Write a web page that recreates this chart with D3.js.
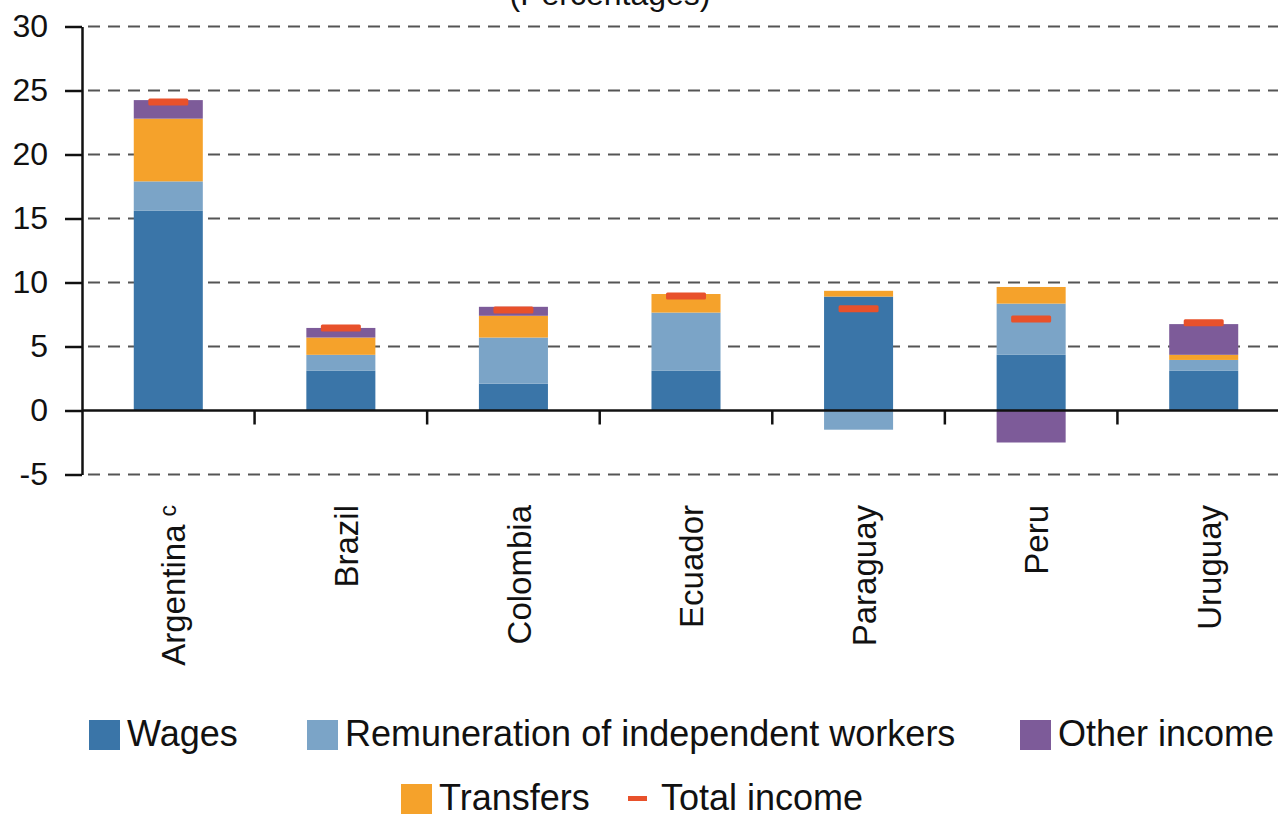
<!DOCTYPE html>
<html>
<head>
<meta charset="utf-8">
<script src="https://cdn.jsdelivr.net/npm/d3@7"></script>
<style>
  body { margin: 0; background: #fff; }
  svg { display: block; font-family: "Liberation Sans", Arial, sans-serif; }
</style>
</head>
<body>
<div id="chart"></div>
<script>
// data
var countries = ["Argentina", "Brazil", "Colombia", "Ecuador", "Paraguay", "Peru", "Uruguay"];
var wages = [15.6, 3.1, 2.1, 3.1, 8.9, 4.35, 3.1];
var independent = [2.3, 1.25, 3.6, 4.55, -1.5, 4.0, 0.85];
var transfers = [4.9, 1.35, 1.7, 1.45, 0.45, 1.3, 0.4];
var other = [1.45, 0.75, 0.7, 0, 0, -2.5, 2.4];
var totalIncome = [24.1, 6.45, 7.85, 8.95, 7.95, 7.15, 6.85];
var yTicks = [-5, 0, 5, 10, 15, 20, 25, 30];
var seriesNames = ["Wages", "Remuneration of independent workers", "Other income", "Transfers", "Total income"];
var title = "(Percentages)";

var width = 1278, height = 816;
var colors = {
  wages: "#3a75a8",
  independent: "#7ba4c7",
  other: "#7d5b99",
  transfers: "#f5a22b",
  total: "#e8512b"
};

var svg = d3.select("#chart").append("svg")
    .attr("width", width)
    .attr("height", height);

var x = d3.scaleBand()
    .domain(countries)
    .range([82, 1290])
    .paddingInner(0.6)
    .paddingOuter(0.3);

var y = d3.scaleLinear()
    .domain([-5, 30])
    .range([474.5, 26.5]);

// stacked table, stacking order bottom-up: wages, independent, transfers, other
var table = countries.map(function(c, i) {
  return {country: c, wages: wages[i], independent: independent[i], transfers: transfers[i], other: other[i], total: totalIncome[i]};
});
var stack = d3.stack()
    .keys(["wages", "independent", "transfers", "other"])
    .offset(d3.stackOffsetDiverging);
var layers = stack(table);

// title, cut at the top edge
svg.append("text")
    .attr("x", 610)
    .attr("y", 5)
    .attr("text-anchor", "middle")
    .style("font-size", "32px")
    .attr("fill", "#111")
    .text(title);

// dashed gridlines
svg.append("g")
  .selectAll("line")
    .data(yTicks.filter(function(d) { return d !== 0; }))
  .enter().append("line")
    .attr("x1", 88)
    .attr("x2", width)
    .attr("y1", function(d) { return y(d); })
    .attr("y2", function(d) { return y(d); })
    .attr("stroke", "#555")
    .attr("stroke-width", 2)
    .attr("stroke-dasharray", "12,8");

// bars
svg.append("g")
  .selectAll("g")
    .data(layers)
  .enter().append("g")
    .attr("fill", function(d) { return colors[d.key]; })
  .selectAll("rect")
    .data(function(d) { return d; })
  .enter().append("rect")
    .attr("x", function(d) { return x(d.data.country); })
    .attr("width", x.bandwidth())
    .attr("y", function(d) { return y(Math.max(d[0], d[1])); })
    .attr("height", function(d) { return Math.abs(y(d[0]) - y(d[1])); });

// total income markers
svg.append("g")
  .selectAll("rect")
    .data(table)
  .enter().append("rect")
    .attr("x", function(d) { return x(d.country) + x.bandwidth() / 2 - 20; })
    .attr("y", function(d) { return y(d.total) - 3.5; })
    .attr("width", 40)
    .attr("height", 7)
    .attr("rx", 1.5)
    .attr("fill", colors.total);

// y axis
var yAxis = svg.append("g")
    .attr("transform", "translate(82,0)")
    .call(d3.axisLeft(y)
      .tickValues(yTicks)
      .tickFormat(function(d) { return String(d); })
      .tickSize(17).tickSizeOuter(0).tickPadding(17));
yAxis.select(".domain").attr("stroke", "#111").attr("stroke-width", 2.5);
yAxis.selectAll(".tick line").attr("stroke", "#111").attr("stroke-width", 2.5);
yAxis.selectAll(".tick text")
    .attr("fill", "#111")
    .style("font-size", "32px")
    .style("font-family", "'Liberation Sans', Arial, sans-serif");

// zero line and category separators
svg.append("line")
    .attr("x1", 82)
    .attr("x2", width)
    .attr("y1", y(0))
    .attr("y2", y(0))
    .attr("stroke", "#111")
    .attr("stroke-width", 2.5);

svg.append("g")
  .selectAll("line")
    .data(countries.slice(1))
  .enter().append("line")
    .attr("x1", function(d) { return x(d) + x.bandwidth() / 2 - x.step() / 2; })
    .attr("x2", function(d) { return x(d) + x.bandwidth() / 2 - x.step() / 2; })
    .attr("y1", y(0))
    .attr("y2", y(0) + 14)
    .attr("stroke", "#111")
    .attr("stroke-width", 2.5);

// category labels, rotated
var labels = svg.append("g")
  .selectAll("text")
    .data(countries)
  .enter().append("text")
    .attr("transform", function(d) { return "translate(" + (x(d) + x.bandwidth() / 2) + ",505) rotate(-90)"; })
    .attr("text-anchor", "end")
    .attr("dy", "0.52em")
    .attr("fill", "#111")
    .style("font-size", "33px");

labels.append("tspan").text(function(d) { return d; });
labels.filter(function(d) { return d === "Argentina"; })
  .append("tspan")
    .attr("dx", 8)
    .attr("dy", "-0.4em")
    .style("font-size", "23px")
    .text("c");

// legend
var legendItems = [
  {name: seriesNames[0], color: colors.wages, x: 89, row: 0},
  {name: seriesNames[1], color: colors.independent, x: 307, row: 0},
  {name: seriesNames[2], color: colors.other, x: 1020, row: 0},
  {name: seriesNames[3], color: colors.transfers, x: 401, row: 1},
  {name: seriesNames[4], color: colors.total, x: 628, row: 1, line: true}
];
var rowBase = [746, 810];

var legend = svg.append("g")
  .selectAll("g")
    .data(legendItems)
  .enter().append("g");

legend.filter(function(d) { return !d.line; })
  .append("rect")
    .attr("x", function(d) { return d.x; })
    .attr("y", function(d) { return rowBase[d.row] - 26; })
    .attr("width", 31)
    .attr("height", 30)
    .attr("fill", function(d) { return d.color; });

legend.filter(function(d) { return d.line; })
  .append("rect")
    .attr("x", function(d) { return d.x; })
    .attr("y", function(d) { return rowBase[d.row] - 14; })
    .attr("width", 19)
    .attr("height", 5)
    .attr("fill", function(d) { return d.color; });

legend.append("text")
    .attr("x", function(d) { return d.line ? d.x + 33 : d.x + 38; })
    .attr("y", function(d) { return rowBase[d.row]; })
    .attr("fill", "#111")
    .style("font-size", "36px")
    .text(function(d) { return d.name; });
</script>
</body>
</html>
